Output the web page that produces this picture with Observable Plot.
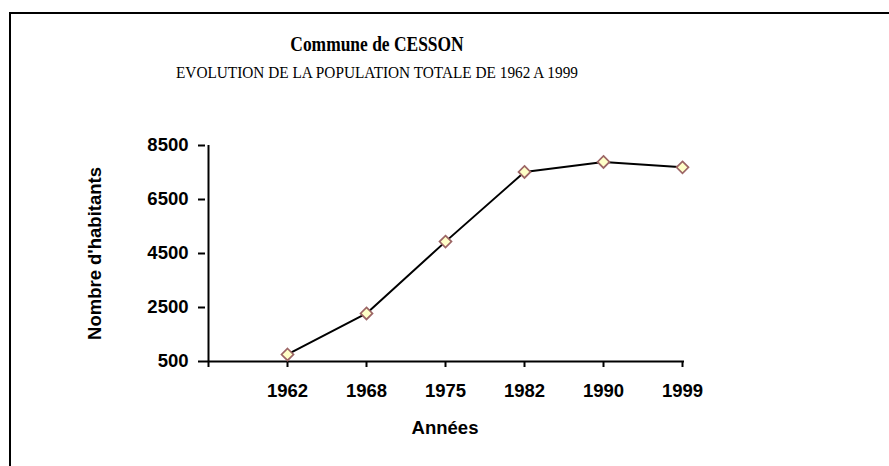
<!DOCTYPE html>
<html>
<head>
<meta charset="utf-8">
<script src="https://cdn.jsdelivr.net/npm/d3@7"></script>
<script src="https://cdn.jsdelivr.net/npm/@observablehq/plot@0.6"></script>
<style>
  html, body { margin: 0; padding: 0; background: #fff; overflow: hidden; }
  #wrap { position: relative; width: 889px; height: 466px; }
  #frame { position: absolute; left: 9px; top: 12px; width: 900px; height: 500px;
           border-top: 2px solid #000; border-left: 2px solid #000; box-sizing: border-box; }
  .ttl { position: absolute; left: 0; width: 754px; text-align: center; white-space: nowrap;
         font-family: "Liberation Serif", "Times New Roman", serif; color: #000; }
  #title { top: 32px; font-weight: bold; font-size: 21px; line-height: 25px; transform: scaleX(0.83); }
  #subtitle { top: 63px; font-size: 17px; line-height: 20px; transform: scaleX(0.9); }
  #chart { position: absolute; left: 0; top: 0; }
</style>
</head>
<body>
<div id="wrap">
  <div id="frame"></div>
  <div id="title" class="ttl">Commune de CESSON</div>
  <div id="subtitle" class="ttl">EVOLUTION DE LA POPULATION TOTALE DE 1962 A 1999</div>
  <div id="chart"></div>
</div>
<script>
const years = ["1962", "1968", "1975", "1982", "1990", "1999"];
const population = [760, 2280, 4940, 7520, 7890, 7690];
const yTicks = [500, 2500, 4500, 6500, 8500];
const xLabel = "Années";
const yLabel = "Nombre d'habitants";

const data = years.map((year, i) => ({year, value: population[i]}));

const chart = Plot.plot({
  width: 889,
  height: 466,
  marginLeft: 205,
  marginRight: 205,
  marginTop: 145,
  marginBottom: 105,
  style: {fontFamily: "'Liberation Sans', Arial, sans-serif", fontWeight: "bold", fontSize: "18.5px", color: "#000", background: "transparent"},
  x: {type: "point", domain: ["", ...years], padding: 0},
  y: {domain: [500, 8500]},
  marks: [
    Plot.axisY({ticks: yTicks, tickFormat: d => String(d), tickSize: 7, tickPadding: 10, strokeWidth: 2, label: yLabel, labelAnchor: "center", labelOffset: 118, labelArrow: "none"}),
    Plot.axisX({tickSize: 6, tickPadding: 16, strokeWidth: 2, label: xLabel, labelAnchor: "center", labelOffset: 72, labelArrow: "none"}),
    Plot.ruleY([500], {stroke: "#000", strokeWidth: 2}),
    Plot.ruleX([""], {stroke: "#000", strokeWidth: 2}),
    Plot.line(data, {x: "year", y: "value", stroke: "#000", strokeWidth: 2}),
    Plot.dot(data, {x: "year", y: "value", symbol: "diamond2", r: 5.4, fill: "#ffffc8", stroke: "#9c6565", strokeWidth: 1.7})
  ]
});
document.getElementById("chart").appendChild(chart);
</script>
</body>
</html>
